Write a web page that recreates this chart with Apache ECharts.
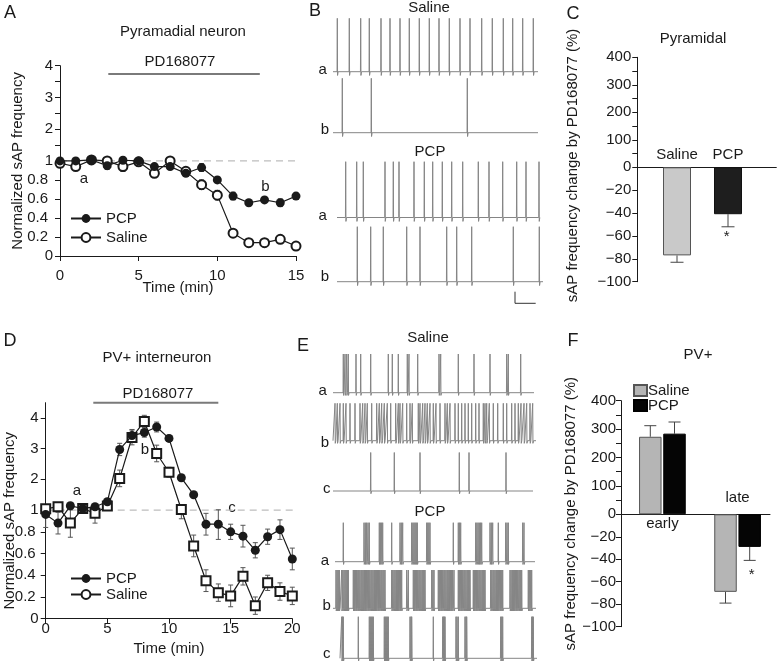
<!DOCTYPE html>
<html><head><meta charset="utf-8">
<script src="https://cdn.jsdelivr.net/npm/echarts@6/dist/echarts.min.js"></script>
<style>html,body{margin:0;padding:0;background:#fff}#c{width:777px;height:661px}</style>
</head><body><div id="c"></div><script>
// ---------------- DATA ----------------
// Panel A: pyramidal neuron, normalized sAP frequency vs time (min)
const timeA = [0,1,2,3,4,5,6,7,8,9,10,11,12,13,14,15];
const pyrPCP = [1.00,1.00,1.03,0.95,1.02,1.00,0.94,0.94,0.87,0.93,0.80,0.63,0.56,0.59,0.56,0.63];
const pyrPCPErr = [0.02,0.02,0.02,0.04,0.02,0.02,0.03,0.02,0.03,0.04,0.03,0.04,0.03,0.02,0.04,0.03];
const pyrSaline = [0.975,0.94,1.03,1.00,0.94,0.99,0.87,1.00,0.89,0.75,0.64,0.24,0.14,0.14,0.175,0.105];
const pyrSalineErr = [0.03,0.03,0.02,0.02,0.05,0.04,0.04,0.02,0.03,0.05,0.05,0.02,0.02,0.02,0.02,0.02];
const drugTimeA = [3.07, 12.7];
// Panel D: PV+ interneuron
const timeD = [0,1,2,3,4,5,6,7,8,9,10,11,12,13,14,15,16,17,18,19,20];
const pvPCP = [0.96,0.88,1.14,1.05,1.11,1.27,2.97,3.42,3.52,3.70,3.33,2.05,1.50,0.87,0.87,0.80,0.76,0.63,0.755,0.82,0.55];
const pvPCPErr = [0.12,0.10,0.06,0.05,0.05,0.10,0.20,0.20,0.15,0.16,0.10,0.06,0.04,0.10,0.14,0.07,0.10,0.07,0.07,0.09,0.10];
const pvSaline = [1.04,1.11,0.88,1.05,0.97,1.13,2.03,3.36,3.88,2.84,2.23,1.02,0.67,0.35,0.24,0.21,0.39,0.12,0.33,0.25,0.21];
const pvSalineErr = [0.03,0.04,0.13,0.05,0.09,0.10,0.27,0.24,0.20,0.27,0.16,0.10,0.10,0.10,0.08,0.10,0.08,0.08,0.07,0.08,0.08];
const drugTimeD = [3.86, 14.0];
const normTicks = [0,0.2,0.4,0.6,0.8,1,2,3,4];
const normMinorA = [1.5,2.5,3.5];
// Panel C: pyramidal, % change
const pyrGroups = ['Saline','PCP'];
const pyrChange = [-77,-41];
const pyrChangeErr = [6,11];
// Panel F: PV+, % change (early / late)
const pvGroups = ['early','late'];
const pvSalineChange = [273,-69];
const pvSalineChangeErr = [39,10];
const pvPCPChange = [284,-29];
const pvPCPChangeErr = [41,12];
const changeTicks = [-100,-80,-60,-40,-20,0,100,200,300,400];
const changeMinor = [50,150,250,350];
// Panels B and E: spike times of example traces (time units along each trace)
const bSalineA = [4.3,16.3,27.7,36.3,48,57,67,76.3,86.3,96.3,106,116.3,127,137,148.7,159.3,170.3,179.7,189.7,200.3];
const bSalineB = [9.3,38.3,134.3];
const bPcpA = [12.7,23.7,30.3,52,60.3,66,81,91.3,99.7,109.3,118.7,129.7,145.3,156,169.7,183.7,193,206];
const bPcpB = [24.3,37.7,50.3,73.7,87,113.7,123.7,138.7,180.3,206.3];
const eSalineA = [10.3,12,13.7,15.3,23,27.7,37.7,55.3,59.3,65.3,74.3,76,84.7,106,107.7,125.3,141,157,173.7,175.3,187.7];
const eSalineB = [2,4.3,7,10.3,13,17,22,27,29.7,32,34.3,38.7,43.7,46.3,48.7,51.3,54.3,57.7,62.7,65.3,67,69.7,73.7,77,79.3,85.3,87,89.7,92,94.3,97,100.3,103,107,112,114.3,117,122,125.3,128.7,132,135.3,138.7,142.7,146,150.3,152,153.7,156.3,160.3,164.7,170.3,173.7,178.7,182,185.3,188,191,193.7,197,199.7];
const eSalineC = [37.7,61.3,87,126.3,136,173];
const ePcpA = [10.3,31.0,32.3,33.6,35.0,36.3,46.3,47.4,48.6,49.7,58.7,67.0,68.3,69.7,78.7,79.9,81.0,82.1,83.2,84.3,93.7,94.8,95.9,97.0,120.3,125.3,126.5,127.7,142.7,143.9,145.1,146.3,147.5,148.7,157.0,158.3,159.7,165.3,172.7,174.0,175.3,189.7,191.0];
const ePcpB = [3.0,4.1,5.2,6.3,8.7,9.8,11.0,12.1,13.2,14.3,15.3,20.3,21.4,22.6,23.6,24.8,25.8,26.9,28.1,29.1,30.2,31.4,32.4,33.5,34.7,35.7,36.8,38.0,39.0,40.1,41.3,42.3,43.4,44.6,45.6,46.7,47.9,48.9,50.0,51.0,52.0,58.7,59.8,61.0,62.1,63.3,64.3,65.4,66.6,67.6,68.7,73.7,75.3,80.3,81.4,82.6,83.6,84.7,85.9,86.9,88.0,89.2,90.2,91.1,92.0,98.7,99.9,101.0,105.3,106.4,107.6,108.6,109.7,110.9,111.9,113.0,114.2,115.2,116.3,117.5,118.5,119.6,121.0,125.3,126.4,127.6,128.6,129.7,130.9,131.9,133.0,134.2,135.2,136.1,137.0,140.3,141.4,142.6,143.6,144.7,145.9,146.9,148.0,149.2,150.2,151.1,152.0,157.7,158.8,160.0,161.0,162.1,163.3,164.3,165.4,166.6,167.6,168.7,169.7,177.0,178.1,179.3,180.3,181.4,182.6,183.6,184.7,185.9,186.9,187.8,188.7,195.3,196.5,197.7,198.7];
const ePcpC = [8.7,9.5,10.3,25.3,36.3,37.3,38.3,39.3,40.3,51.3,52.3,53.3,54.3,55.3,77.0,78.0,78.7,100.3,109.7,110.5,111.3,112.0,123.0,124.0,125.3,132.0,133.0,133.7,167.7,168.7,169.7,198.7,199.5,200.3];
const traceLabels = ['a','b','a','b','a','b','c','a','b','c'];

// ---------------- LAYOUT / STYLE ----------------
const FONT = '"Liberation Sans", Arial, Helvetica, sans-serif';
const INK = '#1a1a1a';
const FS = 15;
const kA = 0.3337, kD = 0.2833, kC = 0.2404, kF = 0.2527;
const tA = v => v <= 1 ? v : 1 + (v - 1) * kA;
const tD = v => v <= 1 ? v : 1 + (v - 1) * kD;
const tC = v => v >= 0 ? v * kC : v;
const tF = v => v >= 0 ? v * kF : v;
const iA = t => t <= 1 ? t : 1 + (t - 1) / kA;
const iD = t => t <= 1 ? t : 1 + (t - 1) / kD;
const iC = t => t >= 0 ? t / kC : t;
const iF = t => t >= 0 ? t / kF : t;

const traceDefs = [
  {spikes: bSalineA, ext: [0,205], top: 18.3, base: 71.7, lab: [322.7,70]},
  {spikes: bSalineB, ext: [0,205], top: 78.3, base: 132.7, lab: [325,130]},
  {spikes: bPcpA, ext: [4,207], top: 161.7, base: 217.5, lab: [322.7,215.5]},
  {spikes: bPcpB, ext: [4,210], top: 226.7, base: 281.7, lab: [325,277]},
  {spikes: eSalineA, ext: [0,201], top: 354, base: 392.7, lab: [322.7,390.5]},
  {spikes: eSalineB, ext: [0,203], top: 403.3, base: 440.7, lab: [325,443]},
  {spikes: eSalineC, ext: [0,200], top: 452.5, base: 491, lab: [326.7,489]},
  {spikes: ePcpA, ext: [2,202], top: 522.7, base: 561.7, lab: [325,561]},
  {spikes: ePcpB, ext: [0,203], top: 570, base: 608.3, lab: [326.7,606]},
  {spikes: ePcpC, ext: [7,204], top: 616.7, base: 658.3, lab: [326.7,654]}
];
const C_BAR_X = [39.7, 90.7];
const F_GROUP_X = [41.4, 116.6];
const F_OFF = 12.1;

function fmtDec(v) {
  const r = Math.round(v * 10) / 10;
  if (Number.isInteger(r)) return String(r);
  return '{d|' + r + '}';
}
function fmtPct(v) {
  const r = Math.round(v);
  return r < 0 ? '\u2212' + (-r) : String(r);
}

function errRender(capW, color, bothCaps) {
  return function (params, api) {
    const x = api.value(0), lo = api.value(1), hi = api.value(2);
    const p1 = api.coord([x, lo]), p2 = api.coord([x, hi]);
    const st = {stroke: color, lineWidth: 1};
    const ch = [
      {type: 'line', shape: {x1: p1[0], y1: p1[1], x2: p2[0], y2: p2[1]}, style: st},
      {type: 'line', shape: {x1: p2[0] - capW/2, y1: p2[1], x2: p2[0] + capW/2, y2: p2[1]}, style: st}
    ];
    if (bothCaps) ch.push({type: 'line', shape: {x1: p1[0] - capW/2, y1: p1[1], x2: p1[0] + capW/2, y2: p1[1]}, style: st});
    return {type: 'group', children: ch};
  };
}

function traceData(def) {
  const pts = [[def.ext[0], 0]];
  def.spikes.forEach(s => {
    pts.push([s - 0.25, 0], [s, 1], [s + 0.25, -0.07], [s + 0.8, 0]);
  });
  pts.push([def.ext[1], 0]);
  return pts;
}

const grids = [
  {left: 60, top: 65.7, width: 236, height: 190.3},
  {left: 45.7, top: 402.7, width: 246.6, height: 216},
  {left: 637.3, top: 57.3, width: 139, height: 224.4},
  {left: 621, top: 400.7, width: 149, height: 226}
];
traceDefs.forEach(d => grids.push({left: 333, width: 210, top: d.top, height: d.base - d.top}));
grids.forEach(g => { g.containLabel = false; g.outerBoundsMode = 'none'; });

const nameStyle = {fontSize: FS, color: INK, fontFamily: FONT};
const axisCommon = {
  axisLine: {show: true, onZero: false, lineStyle: {color: INK, width: 1}},
  axisTick: {show: true, length: 5, lineStyle: {color: INK}},
  splitLine: {show: false},
  nameMoveOverlap: false,
  nameTextStyle: nameStyle
};

const xAxes = [
  Object.assign({}, axisCommon, {gridIndex: 0, type: 'value', min: 0, max: 15, interval: 5,
    axisLabel: {fontSize: FS, color: INK, margin: 12, fontFamily: FONT},
    name: 'Time (min)', nameLocation: 'middle', nameGap: 24}),
  Object.assign({}, axisCommon, {gridIndex: 1, type: 'value', min: 0, max: 20, interval: 5,
    axisLabel: {fontSize: FS, color: INK, margin: 3, fontFamily: FONT},
    name: 'Time (min)', nameLocation: 'middle', nameGap: 23}),
  {gridIndex: 2, type: 'value', min: 0, max: 139, axisLine: {show: true, onZero: true, lineStyle: {color: INK}},
    axisTick: {show: false}, axisLabel: {show: false}, splitLine: {show: false}},
  {gridIndex: 3, type: 'value', min: 0, max: 149, axisLine: {show: true, onZero: true, lineStyle: {color: INK}},
    axisTick: {show: false}, axisLabel: {show: false}, splitLine: {show: false}}
];
const yAxes = [
  Object.assign({}, axisCommon, {gridIndex: 0, type: 'value', min: 0, max: tA(4),
    axisTick: {show: true, length: 5, lineStyle: {color: INK}, customValues: normTicks.concat(normMinorA).map(tA)},
    axisLabel: {fontSize: FS, color: INK, margin: 7, fontFamily: FONT, customValues: normTicks.map(tA),
      formatter: v => fmtDec(iA(v)), rich: {d: {fontSize: FS, fontFamily: FONT, color: INK, padding: [0, 5, 0, 0]}}},
    name: 'Normalized sAP frequency', nameLocation: 'middle', nameGap: 35}),
  Object.assign({}, axisCommon, {gridIndex: 1, type: 'value', min: 0, max: tD(4.49),
    axisTick: {show: true, length: 5, lineStyle: {color: INK}, customValues: normTicks.map(tD)},
    axisLabel: {fontSize: FS, color: INK, margin: 7, fontFamily: FONT, customValues: normTicks.map(tD),
      formatter: v => fmtDec(iD(v)), rich: {d: {fontSize: FS, fontFamily: FONT, color: INK, padding: [0, 3, 0, 0]}}},
    name: 'Normalized sAP frequency', nameLocation: 'middle', nameGap: 28,
    nameTextStyle: Object.assign({}, nameStyle, {padding: [0, 20, 0, 0]})}),
  Object.assign({}, axisCommon, {gridIndex: 2, type: 'value', min: -100, max: tC(400),
    axisTick: {show: true, length: 5, lineStyle: {color: INK}, customValues: changeTicks.concat(changeMinor).map(tC)},
    axisLabel: {fontSize: FS, color: INK, margin: 6, fontFamily: FONT, customValues: changeTicks.map(tC),
      formatter: v => fmtPct(iC(v))},
    name: 'sAP frequency change by PD168077 (%)', nameLocation: 'middle', nameGap: 57,
    nameTextStyle: Object.assign({}, nameStyle, {padding: [0, 0, 0, 8]})}),
  Object.assign({}, axisCommon, {gridIndex: 3, type: 'value', min: -100, max: tF(400),
    axisTick: {show: true, length: 5, lineStyle: {color: INK}, customValues: changeTicks.concat(changeMinor).map(tF)},
    axisLabel: {fontSize: FS, color: INK, margin: 5, fontFamily: FONT, customValues: changeTicks.map(tF),
      formatter: v => fmtPct(iF(v))},
    name: 'sAP frequency change by PD168077 (%)', nameLocation: 'middle', nameGap: 43})
];
traceDefs.forEach((d, i) => {
  xAxes.push({gridIndex: 4 + i, type: 'value', min: 0, max: 210, show: false});
  yAxes.push({gridIndex: 4 + i, type: 'value', min: 0, max: 1, show: false});
});

const series = [];
// ---- Panel A ----
series.push({type: 'line', xAxisIndex: 0, yAxisIndex: 0, data: [[0, 1], [16.2, 1]], symbol: 'none', clip: false,
  lineStyle: {color: '#bdbdbd', width: 1.2, type: [7, 5]}, silent: true, z: 1});
series.push({type: 'line', xAxisIndex: 0, yAxisIndex: 0, data: drugTimeA.map(t => [t, tA(3.74)]), symbol: 'none',
  lineStyle: {color: '#7a7a7a', width: 2}, silent: true, z: 1});
series.push({type: 'custom', xAxisIndex: 0, yAxisIndex: 0, renderItem: errRender(5, '#333', true), z: 2,
  encode: {x: 0, y: [1, 2]}, data: timeA.map((t, i) => [t, tA(pyrPCP[i] - pyrPCPErr[i]), tA(pyrPCP[i] + pyrPCPErr[i])])});
series.push({type: 'custom', xAxisIndex: 0, yAxisIndex: 0, renderItem: errRender(5, '#333', true), z: 2,
  encode: {x: 0, y: [1, 2]}, data: timeA.map((t, i) => [t, tA(pyrSaline[i] - pyrSalineErr[i]), tA(pyrSaline[i] + pyrSalineErr[i])])});
series.push({name: 'PCP', type: 'line', xAxisIndex: 0, yAxisIndex: 0, data: timeA.map((t, i) => [t, tA(pyrPCP[i])]),
  symbol: 'circle', symbolSize: 9, itemStyle: {color: INK}, lineStyle: {color: INK, width: 1.2}, z: 4});
series.push({name: 'Saline', type: 'line', xAxisIndex: 0, yAxisIndex: 0, data: timeA.map((t, i) => [t, tA(pyrSaline[i])]),
  symbol: 'emptyCircle', symbolSize: 9, itemStyle: {color: INK, borderWidth: 1}, lineStyle: {color: INK, width: 1.2}, z: 3});
// ---- Panel D ----
series.push({type: 'line', xAxisIndex: 1, yAxisIndex: 1, data: [[0, 1], [20.5, 1]], symbol: 'none', clip: false,
  lineStyle: {color: '#bdbdbd', width: 1.2, type: [7, 5]}, silent: true, z: 1});
series.push({type: 'line', xAxisIndex: 1, yAxisIndex: 1, data: drugTimeD.map(t => [t, tD(4.49)]), symbol: 'none', clip: false,
  lineStyle: {color: '#7a7a7a', width: 2}, silent: true, z: 1});
series.push({type: 'custom', xAxisIndex: 1, yAxisIndex: 1, renderItem: errRender(5, '#555', true), z: 2,
  encode: {x: 0, y: [1, 2]}, data: timeD.map((t, i) => [t, tD(pvPCP[i] - pvPCPErr[i]), tD(pvPCP[i] + pvPCPErr[i])])});
series.push({type: 'custom', xAxisIndex: 1, yAxisIndex: 1, renderItem: errRender(5, '#555', true), z: 2,
  encode: {x: 0, y: [1, 2]}, data: timeD.map((t, i) => [t, tD(pvSaline[i] - pvSalineErr[i]), tD(pvSaline[i] + pvSalineErr[i])])});
series.push({name: 'PCP', type: 'line', xAxisIndex: 1, yAxisIndex: 1, data: timeD.map((t, i) => [t, tD(pvPCP[i])]),
  symbol: 'circle', symbolSize: 9, itemStyle: {color: INK}, lineStyle: {color: INK, width: 1.2}, z: 4});
series.push({name: 'Saline', type: 'line', xAxisIndex: 1, yAxisIndex: 1, data: timeD.map((t, i) => [t, tD(pvSaline[i])]),
  symbol: 'emptyRect', symbolSize: 9, itemStyle: {color: INK, borderWidth: 1}, lineStyle: {color: INK, width: 1.2}, z: 3});
// ---- Panel C ----
const cColors = [{color: '#c9c9c9', borderColor: '#555', borderWidth: 1}, {color: '#1e1e1e', borderColor: '#111', borderWidth: 1}];
series.push({name: 'Pyramidal change', type: 'bar', xAxisIndex: 2, yAxisIndex: 2, barWidth: 28, z: 3,
  data: pyrChange.map((v, i) => ({value: [C_BAR_X[i], tC(v)], itemStyle: cColors[i]}))});
series.push({type: 'custom', xAxisIndex: 2, yAxisIndex: 2, renderItem: errRender(13, '#444', false), z: 2,
  encode: {x: 0, y: [1, 2]}, data: pyrChange.map((v, i) => [C_BAR_X[i], tC(v), tC(v - pyrChangeErr[i])])});
// ---- Panel F ----
series.push({name: 'Saline ', type: 'bar', xAxisIndex: 3, yAxisIndex: 3, barWidth: 22.5, barGap: '-100%', z: 3,
  itemStyle: {color: '#b5b5b5', borderColor: '#555', borderWidth: 1},
  data: pvSalineChange.map((v, i) => [F_GROUP_X[i] - F_OFF, tF(v)])});
series.push({name: 'PCP ', type: 'bar', xAxisIndex: 3, yAxisIndex: 3, barWidth: 22.5, barGap: '-100%', z: 3,
  itemStyle: {color: '#050505', borderColor: '#000', borderWidth: 1},
  data: pvPCPChange.map((v, i) => [F_GROUP_X[i] + F_OFF, tF(v)])});
series.push({type: 'custom', xAxisIndex: 3, yAxisIndex: 3, renderItem: errRender(12, '#444', false), z: 2,
  encode: {x: 0, y: [1, 2]}, data: pvSalineChange.map((v, i) => [F_GROUP_X[i] - F_OFF, tF(v), tF(v + Math.sign(v) * pvSalineChangeErr[i])])});
series.push({type: 'custom', xAxisIndex: 3, yAxisIndex: 3, renderItem: errRender(12, '#444', false), z: 2,
  encode: {x: 0, y: [1, 2]}, data: pvPCPChange.map((v, i) => [F_GROUP_X[i] + F_OFF, tF(v), tF(v + Math.sign(v) * pvPCPChangeErr[i])])});
// ---- Traces B / E ----
traceDefs.forEach((d, i) => {
  series.push({type: 'line', xAxisIndex: 4 + i, yAxisIndex: 4 + i, data: traceData(d), symbol: 'none', clip: false,
    silent: true, lineStyle: {color: '#858585', width: 1}});
});

// ---- Text annotations ----
function txt(x, y, text, size, extra) {
  return Object.assign({type: 'text', x: x, y: y, silent: true,
    style: {text: text, fontSize: size || FS, fontFamily: FONT, fill: INK, align: 'center', verticalAlign: 'middle'}}, extra || {});
}
const graphics = [
  txt(10, 13, 'A', 18), txt(315, 11, 'B', 18), txt(573, 14, 'C', 18),
  txt(10, 341, 'D', 18), txt(303, 346, 'E', 18), txt(573, 341, 'F', 18),
  txt(183, 32, 'Pyramadial neuron'), txt(180, 62, 'PD168077'),
  txt(157, 358, 'PV+ interneuron'), txt(158, 394, 'PD168077'),
  txt(693, 39, 'Pyramidal'), txt(698, 355, 'PV+'),
  txt(429, 8, 'Saline'), txt(430, 152, 'PCP'),
  txt(428, 338, 'Saline'), txt(430, 512, 'PCP'),
  txt(84, 179, 'a'), txt(265.5, 187, 'b'),
  txt(77, 491, 'a'), txt(145, 450, 'b'), txt(232, 508, 'c'),
  txt(637.3 + C_BAR_X[0], 155, pyrGroups[0]), txt(637.3 + C_BAR_X[1], 155, pyrGroups[1]),
  txt(726.7, 237, '*', 15),
  txt(621 + F_GROUP_X[0], 524, pvGroups[0]), txt(621 + F_GROUP_X[1], 498, pvGroups[1]),
  txt(751.7, 575, '*', 15),
  {type: 'polyline', silent: true, shape: {points: [[515, 291.7], [515, 303.3], [535.7, 303.3]]},
    style: {stroke: '#333', lineWidth: 1, fill: null}}
];
traceDefs.forEach((d, i) => graphics.push(txt(d.lab[0], d.lab[1], traceLabels[i])));

const chart = echarts.init(document.getElementById('c'), null, {renderer: 'canvas'});
chart.setOption({
  animation: false,
  backgroundColor: '#fff',
  textStyle: {fontFamily: FONT},
  grid: grids,
  xAxis: xAxes,
  yAxis: yAxes,
  legend: [
    {data: ['PCP', 'Saline'], left: 65, top: 206, orient: 'vertical', itemWidth: 30, itemHeight: 11, itemGap: 4,
      textStyle: {fontSize: FS, color: INK, fontFamily: FONT, lineHeight: 15}, selectedMode: false},
    {data: ['PCP', 'Saline'], left: 65, top: 566, orient: 'vertical', itemWidth: 30, itemHeight: 11, itemGap: 1,
      textStyle: {fontSize: FS, color: INK, fontFamily: FONT, lineHeight: 15}, selectedMode: false},
    {data: ['Saline ', 'PCP '], left: 628, top: 378, orient: 'vertical', icon: 'rect', itemWidth: 13, itemHeight: 11, itemGap: 0,
      textStyle: {fontSize: FS, color: INK, fontFamily: FONT, lineHeight: 15, padding: [0, 0, 0, -4]}, selectedMode: false,
      formatter: n => n.trim()}
  ],
  series: series,
  graphic: graphics
});
</script></body></html>
